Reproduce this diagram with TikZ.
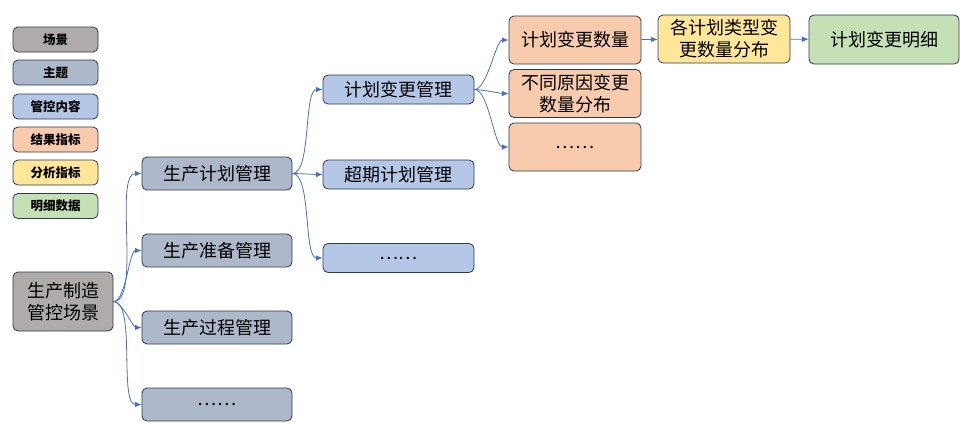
\documentclass[tikz,border=0pt]{standalone}
\usepackage{fontspec}
\setmainfont{Noto Sans CJK SC}
\usetikzlibrary{arrows.meta}
\definecolor{scene}{HTML}{AFABAB}
\definecolor{topic}{HTML}{ADB9CA}
\definecolor{content}{HTML}{B4C7E7}
\definecolor{result}{HTML}{F8CBAD}
\definecolor{analysis}{HTML}{FFE699}
\definecolor{detail}{HTML}{C5E0B4}
\definecolor{frame}{HTML}{2F3B4C}
\definecolor{link}{HTML}{4472C4}
\begin{document}
\begin{tikzpicture}[x=1pt,y=-1pt,
  box/.style={draw=frame,line width=0.8pt,rounded corners=5pt,inner sep=0pt,align=center,font=\fontsize{18}{22}\selectfont},
  tag/.style={box,minimum width=85pt,minimum height=25pt,font=\fontsize{12.5}{14}\selectfont\bfseries},
  lnk/.style={draw=link,line width=0.8pt,-{Latex[length=6.5pt,width=5.5pt]}},
  fan/.style={lnk,out=0,in=180,looseness=0.55}]
\useasboundingbox(0,0)rectangle(973,432);
% legend
\foreach \y/\c/\t [count=\i] in {39.5/scene/场景,72.5/topic/主题,106.5/content/管控内容,139.5/result/结果指标,172.5/analysis/分析指标,206/detail/明细数据}
  \node[tag,fill=\c](key\i)at(55.5,\y){\t};
% scene
\node[box,fill=scene,minimum width=100pt,minimum height=59pt](root)at(63,301.5){生产制造\\管控场景};
% topics
\foreach \y/\t [count=\i] in {173.5/生产计划管理,250.5/生产准备管理,327.5/生产过程管理,404.5/……}{
  \node[box,fill=topic,minimum width=150pt,minimum height=33pt](top\i)at(217,\y){\t};
  \draw[fan](root.east)to(top\i.west);
}
% contents
\foreach \y/\t [count=\i] in {89.5/计划变更管理,174.5/超期计划管理,258/……}{
  \node[box,fill=content,minimum width=151pt,minimum height=29pt](cnt\i)at(398.5,\y){\t};
  \draw[fan](top1.east)to(cnt\i.west);
}
% results
\foreach \y/\t [count=\i] in {40/计划变更数量,93.5/不同原因变更\\数量分布,147/……}{
  \node[box,fill=result,minimum width=132pt,minimum height=48pt](res\i)at(575,\y){\t};
  \draw[fan](cnt1.east)to(res\i.west);
}
\node[box,fill=analysis,minimum width=132pt,minimum height=48pt](ana)at(724,39){各计划类型变\\更数量分布};
\node[box,fill=detail,minimum width=150pt,minimum height=49pt](det)at(884,39.5){计划变更明细};
\draw[lnk](res1)--(ana);
\draw[lnk](ana)--(det);
\end{tikzpicture}
\end{document}
